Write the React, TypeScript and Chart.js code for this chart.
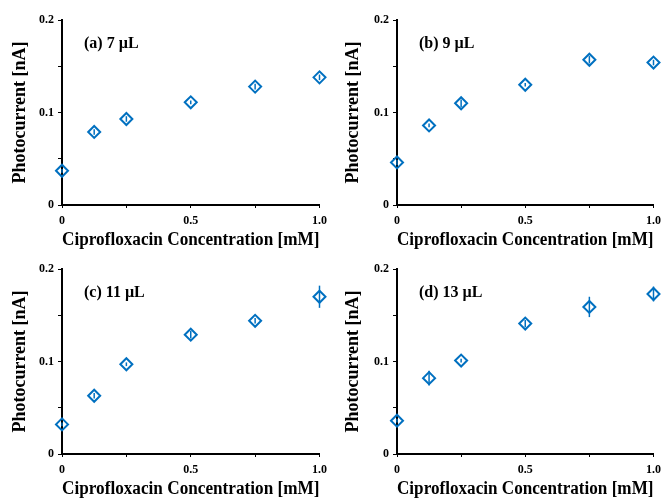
import React, { useEffect, useRef } from 'react';
import { Chart, registerables } from 'chart.js';

Chart.register(...registerables);

// ---- data ----
const concentrations = [0, 0.125, 0.25, 0.5, 0.75, 1.0];
const panelLabels = ['(a) 7 µL', '(b) 9 µL', '(c) 11 µL', '(d) 13 µL'];
const current7 = [0.037, 0.079, 0.093, 0.111, 0.128, 0.138];
const current9 = [0.046, 0.086, 0.110, 0.130, 0.157, 0.154];
const current11 = [0.032, 0.063, 0.097, 0.129, 0.144, 0.170];
const current13 = [0.036, 0.082, 0.101, 0.141, 0.159, 0.173];
const error7 = [0.002, 0.003, 0.003, 0.002, 0.003, 0.003];
const error9 = [0.003, 0.002, 0.004, 0.002, 0.004, 0.003];
const error11 = [0.002, 0.003, 0.002, 0.004, 0.003, 0.012];
const error13 = [0.002, 0.008, 0.002, 0.004, 0.011, 0.008];
const xTickValues = [0, 0.5, 1.0];
const xTickLabels = ['0', '0.5', '1.0'];
const yTickValues = [0, 0.1, 0.2];
const yTickLabels = ['0', '0.1', '0.2'];
const xTitle = 'Ciprofloxacin Concentration [mM]';
const yTitle = 'Photocurrent [nA]';

const BLUE = '#0070C0';
const FONT = '"Liberation Serif", "Times New Roman", serif';

function findLabel(values: number[], labels: string[], v: number): string {
  for (let i = 0; i < values.length; i++) {
    if (Math.abs(values[i] - v) < 1e-6) return labels[i];
  }
  return '';
}

interface PanelProps {
  label: string;
  values: number[];
  errors: number[];
  left: number;
  top: number;
  width: number;
  height: number;
  yAxisWidth: number;
  padRight: number;
}

function Panel(props: PanelProps) {
  const ref = useRef<HTMLCanvasElement | null>(null);
  useEffect(() => {
    const canvas = ref.current;
    if (!canvas) return;
    const errorPlugin = {
      id: 'errorBars',
      afterDatasetsDraw(chart: any) {
        const ctx = chart.ctx;
        const xs = chart.scales.x;
        const ys = chart.scales.y;
        ctx.save();
        ctx.strokeStyle = BLUE;
        ctx.lineWidth = 1.5;
        concentrations.forEach((c, i) => {
          const px = xs.getPixelForValue(c);
          const y1 = ys.getPixelForValue(props.values[i] - props.errors[i]);
          const y2 = ys.getPixelForValue(props.values[i] + props.errors[i]);
          ctx.beginPath();
          ctx.moveTo(px, y1);
          ctx.lineTo(px, y2);
          ctx.stroke();
        });
        ctx.restore();
      },
    };
    const labelPlugin = {
      id: 'panelLabel',
      afterDraw(chart: any) {
        const ctx = chart.ctx;
        const area = chart.chartArea;
        ctx.save();
        ctx.font = `bold 16px ${FONT}`;
        ctx.fillStyle = '#000';
        ctx.textAlign = 'left';
        ctx.textBaseline = 'middle';
        ctx.fillText(props.label, area.left + 22, area.top + 24);
        ctx.restore();
      },
    };
    const chart = new Chart(canvas, {
      type: 'scatter',
      data: {
        datasets: [
          {
            data: concentrations.map((c, i) => ({ x: c, y: props.values[i] })),
            pointStyle: 'rectRot',
            pointRadius: 6,
            pointHoverRadius: 6,
            pointBorderWidth: 2,
            borderColor: BLUE,
            backgroundColor: 'rgba(0,0,0,0)',
            showLine: false,
            clip: false as any,
          },
        ],
      },
      options: {
        animation: false,
        responsive: false,
        events: [],
        layout: { padding: { left: 0, top: 20, right: props.padRight, bottom: 0 } },
        plugins: {
          legend: { display: false },
          tooltip: { enabled: false },
          title: { display: false },
        },
        scales: {
          x: {
            type: 'linear',
            min: 0,
            max: 1,
            afterFit: (s: any) => {
              s.height = 44;
            },
            ticks: {
              stepSize: 0.25,
              autoSkip: false,
              maxRotation: 0,
              color: '#000',
              padding: 6,
              font: { family: FONT, size: 12, weight: 'bold' },
              callback: (v: any) => findLabel(xTickValues, xTickLabels, Number(v)),
            },
            grid: {
              drawOnChartArea: false,
              drawTicks: true,
              tickLength: 3,
              color: '#000',
              lineWidth: 1,
            },
            border: { display: true, color: '#000', width: 2 },
            title: {
              display: true,
              text: xTitle,
              color: '#000',
              padding: { top: 0, bottom: 0 },
              font: { family: FONT, size: 18, weight: 'bold', lineHeight: 1 },
            },
          },
          y: {
            type: 'linear',
            min: 0,
            max: 0.2,
            afterFit: (s: any) => {
              s.width = props.yAxisWidth;
            },
            ticks: {
              stepSize: 0.05,
              autoSkip: false,
              color: '#000',
              padding: 4,
              font: { family: FONT, size: 12, weight: 'bold' },
              callback: (v: any) => findLabel(yTickValues, yTickLabels, Number(v)),
            },
            grid: {
              drawOnChartArea: false,
              drawTicks: true,
              tickLength: 4,
              color: '#000',
              lineWidth: 1,
            },
            border: { display: true, color: '#000', width: 2 },
            title: {
              display: true,
              text: yTitle,
              color: '#000',
              padding: { top: 11, bottom: 0 },
              font: { family: FONT, size: 18, weight: 'bold', lineHeight: 1 },
            },
          },
        },
      } as any,
      plugins: [errorPlugin, labelPlugin],
    });
    return () => chart.destroy();
  }, []);
  return (
    <canvas
      ref={ref}
      width={props.width}
      height={props.height}
      style={{
        position: 'absolute',
        left: props.left,
        top: props.top,
        width: props.width,
        height: props.height,
      }}
    />
  );
}

export default function App() {
  const series = [current7, current9, current11, current13];
  const errors = [error7, error9, error11, error13];
  return (
    <div
      style={{
        position: 'fixed',
        left: 0,
        top: 0,
        width: 667,
        height: 498,
        background: '#fff',
        overflow: 'hidden',
      }}
    >
      {series.map((vals, i) => {
        const col = i % 2;
        const row = Math.floor(i / 2);
        return (
          <Panel
            key={i}
            label={panelLabels[i]}
            values={vals}
            errors={errors[i]}
            left={col === 0 ? 0 : 333}
            top={row === 0 ? 0 : 249}
            width={col === 0 ? 333 : 334}
            height={249}
            yAxisWidth={col === 0 ? 62 : 64}
            padRight={col === 0 ? 11 : 9}
          />
        );
      })}
    </div>
  );
}
